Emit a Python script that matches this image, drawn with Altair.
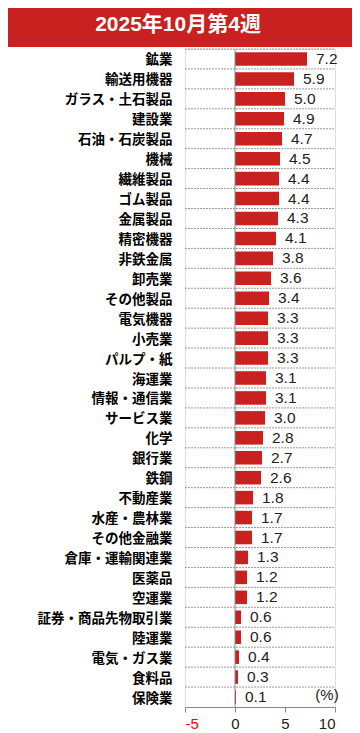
import altair as alt
import pandas as pd

title_text = "2025年10月第4週"
categories = [
    "鉱業", "輸送用機器", "ガラス・土石製品", "建設業", "石油・石炭製品", "機械",
    "繊維製品", "ゴム製品", "金属製品", "精密機器", "非鉄金属", "卸売業",
    "その他製品", "電気機器", "小売業", "パルプ・紙", "海運業", "情報・通信業",
    "サービス業", "化学", "銀行業", "鉄鋼", "不動産業", "水産・農林業",
    "その他金融業", "倉庫・運輸関連業", "医薬品", "空運業", "証券・商品先物取引業",
    "陸運業", "電気・ガス業", "食料品", "保険業",
]
values = [
    7.2, 5.9, 5.0, 4.9, 4.7, 4.5,
    4.4, 4.4, 4.3, 4.1, 3.8, 3.6,
    3.4, 3.3, 3.3, 3.3, 3.1, 3.1,
    3.0, 2.8, 2.7, 2.6, 1.8, 1.7,
    1.7, 1.3, 1.2, 1.2, 0.6,
    0.6, 0.4, 0.3, 0.1,
]
x_ticks = [-5, 0, 5, 10]
x_min, x_max = -5, 10
unit_text = "(%)"

RED = "#C8211F"
W, H = 150, 658

df = pd.DataFrame({"cat": categories, "v": values})

yscale = alt.Scale(domain=categories, paddingInner=0, paddingOuter=0)
xscale = alt.Scale(domain=[x_min, x_max], nice=False, zero=False)

y_axis = alt.Axis(
    title=None, domain=False, ticks=False, grid=False,
    labelPadding=13, labelFontSize=13.5, labelFontWeight="bold",
    labelColor="#000000", labelFont="Noto Sans CJK JP", labelOffset=1.5,
)
x_axis = alt.Axis(
    title=None, values=x_ticks, grid=False, tickSize=5,
    tickColor="#888888", domainColor="#888888", labelFontSize=15,
    labelFont="Liberation Sans", labelPadding=4,
    labelExpr="datum.value + ''",
    labelColor=alt.expr("datum.value < 0 ? '#ff0000' : '#222222'"),
)

base = alt.Chart(df)

bars = base.mark_bar(color=RED, height=alt.RelativeBandSize(0.68)).encode(
    y=alt.Y("cat:N", sort=categories, scale=yscale, axis=y_axis),
    x=alt.X("v:Q", scale=xscale, axis=x_axis),
    x2=alt.datum(0),
)

grid = base.mark_rule(color="#999999", strokeDash=[2, 1], strokeWidth=1).encode(
    y=alt.Y("cat:N", sort=categories, scale=yscale, bandPosition=0, axis=y_axis),
    x=alt.datum(x_min),
    x2=alt.datum(x_max),
)

labels = base.mark_text(
    align="left", baseline="middle", dx=9, fontSize=15.5,
    font="Liberation Sans", color="#222222",
).encode(
    y=alt.Y("cat:N", sort=categories, scale=yscale, axis=y_axis),
    x=alt.X("v:Q", scale=xscale, axis=x_axis),
    text=alt.Text("v:Q", format=".1f"),
)

zero_line = alt.Chart(pd.DataFrame({"z": [0]})).mark_rule(
    color="#888888", strokeWidth=1
).encode(
    x=alt.X("z:Q", scale=xscale, axis=x_axis),
    y=alt.value(0),
    y2=alt.value(H),
)

hdr_df = pd.DataFrame({"t": [title_text], "u": [unit_text]})
header_rect = alt.Chart(hdr_df).mark_rect(color=RED).encode(
    x=alt.value(-177), x2=alt.value(167), y=alt.value(-41), y2=alt.value(-2)
)
header_text = alt.Chart(hdr_df).mark_text(
    color="white", fontSize=21, fontWeight="bold",
    font="Liberation Sans, Noto Sans CJK JP", align="center", baseline="middle",
).encode(text="t:N", x=alt.value(-7), y=alt.value(-24))

unit = alt.Chart(hdr_df).mark_text(
    fontSize=15, font="Liberation Sans", color="#222222",
    align="center", baseline="middle",
).encode(text="u:N", x=alt.value(142), y=alt.value(646))

chart = alt.layer(
    bars, grid, zero_line, labels, header_rect, header_text, unit
).properties(
    width=W, height=H,
    autosize=alt.AutoSizeParams(type="none"),
    padding={"left": 177, "top": 41, "right": 17, "bottom": 26},
).configure_view(stroke=None).configure_axisY(domain=False).configure(background="white")

chart.save("out.html", embed_options={"renderer": "svg", "actions": False})
